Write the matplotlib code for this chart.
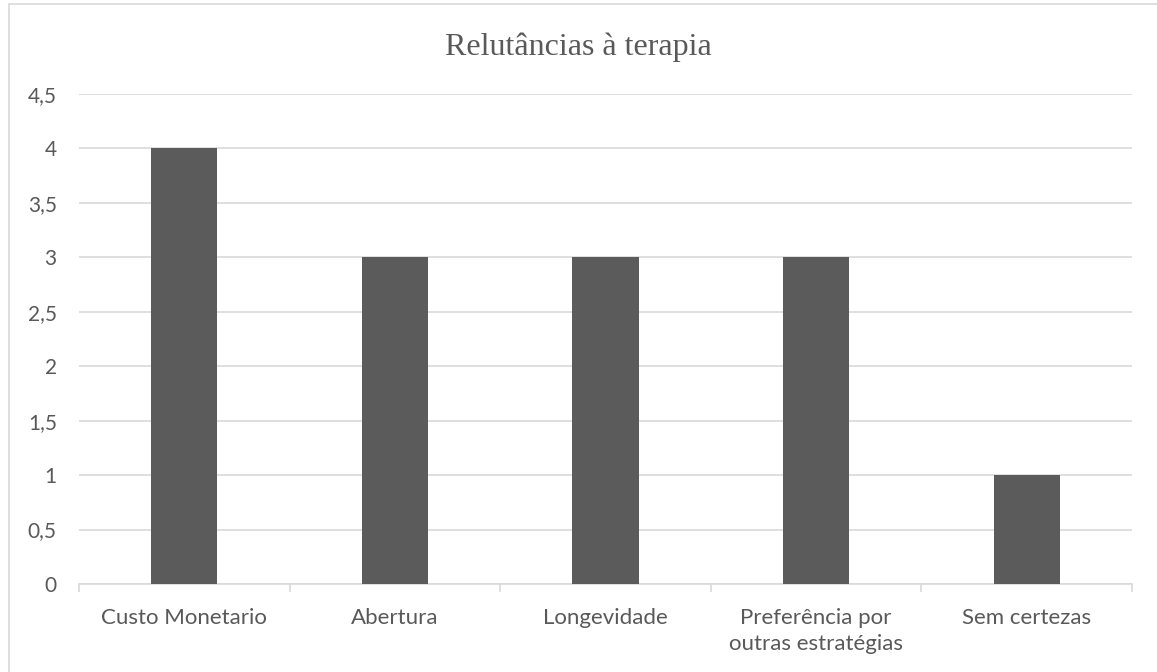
import matplotlib.pyplot as plt
from matplotlib.patches import Rectangle
from matplotlib.ticker import FuncFormatter

categories = ['Custo Monetario', 'Abertura', 'Longevidade',
              'Preferência por\noutras estratégias', 'Sem certezas']
values = [4, 3, 3, 3, 1]
y_ticks = [0, 0.5, 1, 1.5, 2, 2.5, 3, 3.5, 4, 4.5]

text_color = '#595959'
grid_color = '#d9d9d9'

fig = plt.figure(figsize=(11.57, 6.72), dpi=100)
ax = fig.add_axes([79 / 1157, 1 - 584 / 672, (1132 - 79) / 1157, (584 - 94) / 672])

# outer chart border (only left and top visible in the reference)
fig.patches.append(Rectangle((9 / 1157, -0.01), 1.1, 1 - 4 / 672 + 0.01,
                             transform=fig.transFigure, fill=False,
                             edgecolor=grid_color, linewidth=1.2))

x = range(len(categories))
ax.bar(x, values, width=0.315, color='#5b5b5b', zorder=3)

ax.set_xlim(-0.5, len(categories) - 0.5)
ax.set_ylim(0, 4.5)
ax.set_yticks(y_ticks)
ax.yaxis.set_major_formatter(FuncFormatter(lambda v, p: f'{v:g}'.replace('.', ',')))
ax.grid(axis='y', color=grid_color, linewidth=1.2, zorder=0)

ax.set_xticks(list(x))
ax.set_xticklabels(categories, linespacing=1.4)
ax.set_xticks([i - 0.5 for i in range(len(categories) + 1)], minor=True)
ax.tick_params(axis='x', which='major', length=0, pad=17)
ax.tick_params(axis='x', which='minor', length=6, color=grid_color, width=1.2)
ax.tick_params(axis='y', length=0, pad=16)
for lbl in ax.get_xticklabels():
    lbl.set_color(text_color)
    lbl.set_fontsize(16)
    lbl.set_family('Lato')
for lbl in ax.get_yticklabels():
    lbl.set_color(text_color)
    lbl.set_fontsize(15)
    lbl.set_family('Lato')

for side in ['top', 'right', 'left']:
    ax.spines[side].set_visible(False)
ax.spines['bottom'].set_color(grid_color)
ax.spines['bottom'].set_linewidth(1.2)

fig.text(0.5, 1 - 47 / 672, 'Relutâncias à terapia', ha='center', va='center',
         fontsize=23, color=text_color, family='Liberation Serif')

fig.savefig('out.png', dpi=100)
